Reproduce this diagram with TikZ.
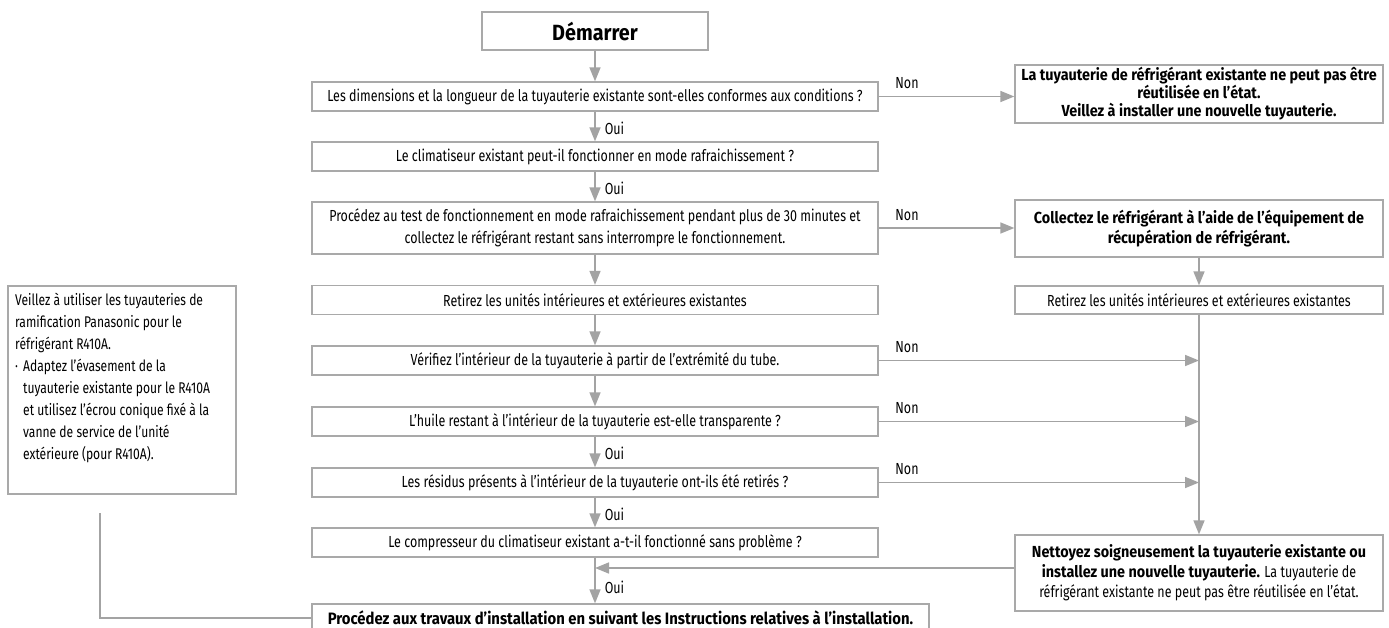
\documentclass[tikz,border=0pt]{standalone}
\usepackage{fontspec}
\setmainfont{Fira Sans}[FakeStretch=0.78, BoldFeatures={FakeStretch=0.9}]
\usetikzlibrary{arrows.meta}
\definecolor{framegray}{HTML}{A9A9A9}
\definecolor{linkgray}{HTML}{A3A3A3}
\begin{document}
\begin{tikzpicture}[x=1pt,y=-1pt,
  box/.style={draw=framegray, line width=1.3pt, fill=white, inner sep=0pt,
    align=center, font=\fontsize{16}{20}\selectfont},
  boldbox/.style={box, font=\bfseries\fontsize{16}{19}\selectfont},
  mainbox/.style={box, minimum width=566pt, minimum height=29pt},
  sidebox/.style={box, minimum width=368pt},
  link/.style={draw=linkgray, line width=1.6pt},
  arr/.style={link, -{Triangle[length=14pt,width=11pt]}},
  yes/.style={font=\fontsize{16}{18}\selectfont, anchor=west, inner sep=0pt, xshift=9pt},
  no/.style={font=\fontsize{16}{18}\selectfont, anchor=south west, inner sep=0pt,
    pos=0, xshift=16pt, yshift=7pt},
]
\useasboundingbox (0,0) rectangle (1389,627);

% main column
\node[boldbox, minimum width=226pt, minimum height=38pt, font=\bfseries\fontsize{22}{26}\selectfont]
  (start) at (595,31) {Démarrer};
\node[mainbox] (b1) at (595,96.5) {Les dimensions et la longueur de la tuyauterie existante sont-elles conformes aux conditions ?};
\node[mainbox] (b2) at (595,156.5) {Le climatiseur existant peut-il fonctionner en mode rafraichissement ?};
\node[mainbox, minimum height=52pt, font=\fontsize{16}{22}\selectfont] (b3) at (595,228)
  {Procédez au test de fonctionnement en mode rafraichissement pendant plus de 30 minutes et\\collectez le réfrigérant restant sans interrompre le fonctionnement.};
\node[mainbox] (b4) at (595,300) {Retirez les unités intérieures et extérieures existantes};
\node[mainbox] (b5) at (595,360.5) {Vérifiez l'intérieur de la tuyauterie à partir de l'extrémité du tube.};
\node[mainbox] (b6) at (595,421.5) {L'huile restant à l'intérieur de la tuyauterie est-elle transparente ?};
\node[mainbox] (b7) at (595,482.5) {Les résidus présents à l'intérieur de la tuyauterie ont-ils été retirés ?};
\node[mainbox] (b8) at (595,542.5) {Le compresseur du climatiseur existant a-t-il fonctionné sans problème ?};
\node[boldbox, minimum width=617pt, minimum height=28pt, font=\bfseries\fontsize{16.5}{19}\selectfont] (final) at (620.5,618)
  {Procédez aux travaux d'installation en suivant les Instructions relatives à l'installation.};

% right column
\node[sidebox, minimum height=58pt, font=\bfseries\fontsize{16}{18}\selectfont] (r1) at (1199,94)
  {La tuyauterie de réfrigérant existante ne peut pas être\\réutilisée en l'état.\\Veillez à installer une nouvelle tuyauterie.};
\node[sidebox, minimum height=57pt, font=\bfseries\fontsize{16}{20}\selectfont] (r2) at (1199,228.5)
  {Collectez le réfrigérant à l'aide de l'équipement de\\récupération de réfrigérant.};
\node[sidebox, minimum height=28pt] (r3) at (1199,300) {Retirez les unités intérieures et extérieures existantes};
\node[sidebox, minimum height=76pt] (r4) at (1199,573)
  {{\bfseries Nettoyez soigneusement la tuyauterie existante ou}\\{\bfseries installez une nouvelle tuyauterie.} La tuyauterie de\\réfrigérant existante ne peut pas être réutilisée en l'état.};

% side note
\node[draw=framegray, line width=1.3pt, minimum width=228pt, minimum height=208pt, inner sep=0pt]
  (note) at (122,390) {};
\node[anchor=north west, inner sep=0pt, align=left,
      font=\fontsize{15.5}{18.5}\selectfont] (notetext) at (15,293)
  {Veillez à utiliser les tuyauteries de\\[3.5pt]
   ramification Panasonic pour le\\[3.5pt]
   réfrigérant R410A.\\[3.5pt]
   \makebox[8pt][l]{·}Adaptez l'évasement de la\\[3.5pt]
   \hspace*{8pt}tuyauterie existante pour le R410A\\[3.5pt]
   \hspace*{8pt}et utilisez l'écrou conique fixé à la\\[3.5pt]
   \hspace*{8pt}vanne de service de l'unité\\[3.5pt]
   \hspace*{8pt}extérieure (pour R410A).};

% junction points on the right-hand collector line
\coordinate (j5) at (r3.south |- b5.east);
\coordinate (j6) at (r3.south |- b6.east);
\coordinate (j7) at (r3.south |- b7.east);
\coordinate (back) at ([yshift=5pt]r4.west);
\coordinate (ret) at (b8.south |- back);
\coordinate (notelink) at (100,513);

% main flow
\draw[arr] (start) -- (b1);
\draw[arr] (b1) -- node[yes, pos=0.55] {Oui} (b2);
\draw[arr] (b2) -- node[yes, pos=0.55] {Oui} (b3);
\draw[arr] (b3) -- (b4);
\draw[arr] (b4) -- (b5);
\draw[arr] (b5) -- (b6);
\draw[arr] (b6) -- node[yes, pos=0.55] {Oui} (b7);
\draw[arr] (b7) -- node[yes, pos=0.55] {Oui} (b8);
\draw[arr] (b8.south) -- node[yes, pos=0.65] {Oui} (b8.south |- final.north);

% "Non" branches
\draw[arr] (b1.east) -- node[no] {Non} (b1.east -| r1.west);
\draw[arr] (b3.east) -- node[no] {Non} (b3.east -| r2.west);
\draw[arr] (b5.east) -- node[no] {Non} (j5);
\draw[arr] (b6.east) -- node[no] {Non} (j6);
\draw[arr] (b7.east) -- node[no] {Non} (j7);

% right column flow
\draw[arr] (r2) -- (r3);
\draw[arr] (r3.south) -- (r4.north);
\draw[arr] (back) -- (ret);

% note link to the final step
\draw[link] (notelink) |- (final.west);
\end{tikzpicture}
\end{document}
